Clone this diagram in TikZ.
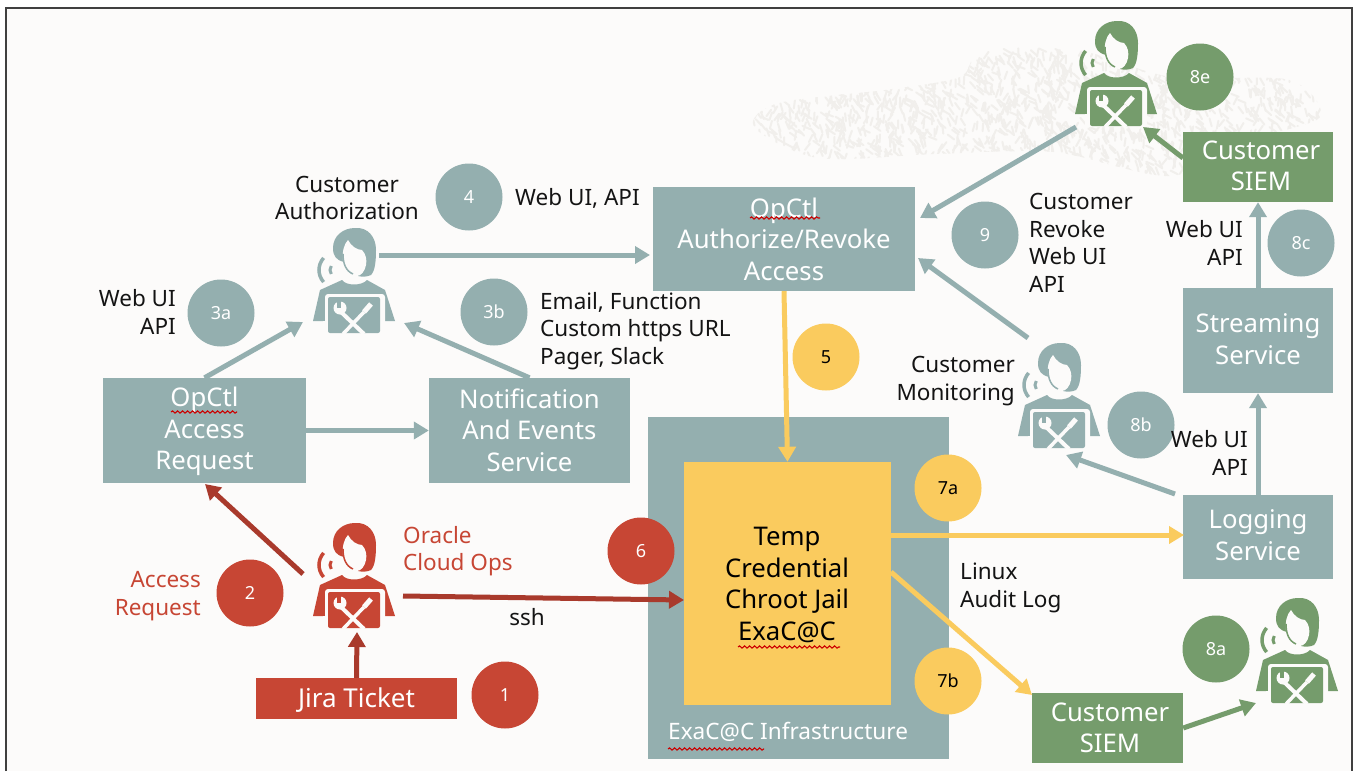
\documentclass[tikz,border=0pt]{standalone}
\usepackage{fontspec}
\setmainfont{Noto Sans}
\usetikzlibrary{arrows.meta,calc,decorations.pathmorphing}

\definecolor{paper}{HTML}{FCFBFA}
\definecolor{teal}{HTML}{94AFAF}
\definecolor{opsred}{HTML}{C74634}
\definecolor{arrowred}{HTML}{A93A2C}
\definecolor{sun}{HTML}{FACB5E}
\definecolor{leaf}{HTML}{759C6C}
\definecolor{speck}{HTML}{F1EFEC}

\tikzset{
  lab/.style={font=\fontsize{22.5}{27.5}\selectfont,inner sep=0pt,text=black!92},
  boxlab/.style={font=\fontsize{25.7}{31.5}\selectfont,text=white,align=center,inner sep=0pt},
  num/.style={circle,fill=#1,text=white,minimum size=67pt,inner sep=0pt,font=\fontsize{18}{20}\selectfont},
  flow/.style={draw=#1,line width=5pt,-{Triangle[length=15pt,width=17pt]},shorten >=0pt},
  squig/.style={draw=red!80!black,line width=1.1pt,decorate,decoration={snake,amplitude=1.1pt,segment length=5pt}}
}

% person at a laptop, #1 name, #2 top centre, #3 colour
\newcommand{\person}[3]{
  \node[minimum width=82pt,minimum height=105pt,inner sep=0pt,anchor=north] (#1) at (#2) {};
  \begin{scope}[shift={(#2)}]
    \fill[#3] (1,0) .. controls (14,-1) and (22,9) .. (22,22) .. controls (22,33) and (21,43) .. (17,47)
      .. controls (13,49) and (8,49) .. (4,48) -- (-10,34) .. controls (-18,32) and (-21,28) .. (-21,20)
      .. controls (-21,8) and (-11,0) .. (1,0) -- cycle;
    \fill[paper] (-6,12) .. controls (-3,18) and (3,22) .. (8,22) .. controls (12,26) and (13,32) .. (12,37)
      .. controls (11,43) and (7,48) .. (3,48) .. controls (-3,48) and (-9,40) .. (-11,32)
      .. controls (-12,24) and (-10,16) .. (-6,12) -- cycle;
    \draw[#3,line width=1.5pt] (-11,26) .. controls (-11,36) and (-8,43) .. (-1,46);
    \draw[#3,line width=3.5pt] (-17,42) ++(138:18) arc (138:222:18);
    \draw[#3,line width=3pt] (-17,42) ++(145:7) arc (145:215:7);
    \fill[#3] (-12,52) .. controls (-8,58) and (8,58) .. (13,52) -- (31,62) -- (41,93) -- (-41,93) -- (-34,62) -- cycle;
    \fill[paper,rounded corners=3pt] (-29,66) rectangle (31,106);
    \fill[paper] (-31,93) rectangle (31,106);
    \fill[#3,rounded corners=2pt] (-26,69) rectangle (26,105);
    \draw[paper,line width=4pt] (-13,84) -- (10,106);
    \draw[paper,line width=5pt] (17,76) -- (10,84);
    \draw[paper,line width=3.5pt] (10,84) -- (-11,106);
    \fill[paper] (-14,80) circle (6.5);
    \fill[#3] (-17,73) rectangle (-13,80);
  \end{scope}
}

\begin{document}
\begin{tikzpicture}[x=1pt,y=-1pt]
  \useasboundingbox (0,0) rectangle (1354,771);
  \fill[white] (0,0) rectangle (1354,771);
  \fill[paper] (6,8) rectangle (1352,771);
  \draw[black!75,line width=2pt] (6,771) -- (6,8) -- (1352,8) -- (1352,771);

  % speckled cloud behind the top right
  \begin{scope}
    \clip plot[smooth cycle] coordinates {(754,127) (779,103) (885,90) (960,77) (983,50) (1077,50)
      (1171,77) (1289,80) (1320,117) (1250,140) (1171,176) (1054,152) (936,154) (818,158)};
    \pgfmathsetseed{7}
    \foreach \i in {1,...,1900} {
      \pgfmathsetmacro{\sx}{750+rnd*575}
      \pgfmathsetmacro{\sy}{48+rnd*130}
      \pgfmathsetmacro{\sa}{20+rnd*110}
      \draw[speck,line width=2pt,line cap=round] (\sx,\sy) -- ++(\sa:8);
    }
  \end{scope}

  % boxes
  \fill[teal] (648,417) rectangle (949,759);
  \node[fill=sun,minimum width=207pt,minimum height=243pt,inner sep=0pt] (tempBox) at (787.5,583.5) {};
  \node[fill=teal,minimum width=203pt,minimum height=105pt,inner sep=0pt] (reqBox) at (204.5,430.5) {};
  \node[fill=teal,minimum width=201pt,minimum height=105pt,inner sep=0pt] (notifBox) at (529.5,430.5) {};
  \node[fill=teal,minimum width=262pt,minimum height=104pt,inner sep=0pt] (authBox) at (784,239) {};
  \node[fill=teal,minimum width=150pt,minimum height=84pt,inner sep=0pt] (logBox) at (1258,537) {};
  \node[fill=teal,minimum width=150pt,minimum height=105pt,inner sep=0pt] (streamBox) at (1258,340.5) {};
  \node[fill=leaf,minimum width=150pt,minimum height=70pt,inner sep=0pt] (siemTop) at (1258,167) {};
  \node[fill=leaf,minimum width=151pt,minimum height=70pt,inner sep=0pt] (siemLow) at (1107.5,728) {};
  \node[fill=opsred,minimum width=201pt,minimum height=41pt,inner sep=0pt] (jiraBox) at (356.5,698.5) {};

  \node[boxlab] (reqText) at (204.5,431.5) {OpCtl\\Access\\Request};
  \node[boxlab] (notifText) at (529.5,430) {Notification\\And Events\\Service};
  \node[boxlab] (authText) at (784,239) {OpCtl\\Authorize/Revoke\\Access};
  \node[boxlab] (logText) at (1258,535) {Logging\\Service};
  \node[boxlab] (streamText) at (1258,339) {Streaming\\Service};
  \node[boxlab] (siemTopText) at (1261,166) {Customer\\SIEM};
  \node[boxlab] (siemLowText) at (1110,728) {Customer\\SIEM};
  \node[boxlab,font=\fontsize{26}{31}\selectfont] (jiraText) at (356.5,700) {Jira Ticket};
  \node[boxlab,text=black] (tempText) at (787,585) {Temp\\Credential\\Chroot Jail\\ExaC@C};
  \node[lab,text=white,anchor=west,font=\fontsize{22.6}{27}\selectfont] (infraText) at (668,732) {ExaC@C Infrastructure};

  % spell check marks
  \draw[squig] (171,412) -- (237,412);
  \draw[squig] (750,218) -- (820,218);
  \draw[squig] (738,647) -- (840,647);
  \draw[squig] (668,749) -- (764,749);

  % people
  \person{authPerson}{354,228}{teal}
  \person{opsPerson}{354,523}{opsred}
  \person{monPerson}{1059,343}{teal}
  \person{lowPerson}{1297,598}{leaf}
  \person{topPerson}{1116,21}{leaf}

  % free ends next to the people
  \coordinate (authFromReq) at (303,322);
  \coordinate (authFromNotif) at (404,323);
  \coordinate (authOut) at (379,255);
  \coordinate (authIn) at (650,255);
  \coordinate (opsOutUp) at (303,574);
  \coordinate (opsReq) at (205,484);
  \coordinate (jiraIn) at (357,632);
  \coordinate (opsOut) at (403,596);
  \coordinate (tempIn) at (684,600);
  \coordinate (tempOutA) at (891,535);
  \coordinate (logIn) at (1184,535);
  \coordinate (tempOutB) at (891,572);
  \coordinate (siemIn) at (1032,695);
  \coordinate (lowIn) at (1256,703);
  \coordinate (topIn) at (1143,127);
  \coordinate (siemOut) at (1183,158);
  \coordinate (topOut) at (1076,127);
  \coordinate (authFromTop) at (920,218);
  \coordinate (monOut) at (1028,338);
  \coordinate (authFromMon) at (918,258);
  \coordinate (logOutMon) at (1175,494);
  \coordinate (monIn) at (1066,455);

  % connectors
  \draw[flow=teal] (reqBox.east) -- (notifBox.west);
  \draw[flow=teal] (reqBox.north) -- (authFromReq);
  \draw[flow=teal] (notifBox.north) -- (authFromNotif);
  \draw[flow=teal] (authOut) -- (authIn);
  \draw[flow=sun] (authBox.south) -- (tempBox.north);
  \draw[flow=arrowred] (opsOutUp) -- (opsReq);
  \draw[flow=arrowred] (jiraBox.north) -- (jiraIn);
  \draw[flow=arrowred] (opsOut) -- (tempIn);
  \draw[flow=sun] (tempOutA) -- (logIn);
  \draw[flow=sun] (tempOutB) -- (siemIn);
  \draw[flow=leaf] (siemLow.east) -- (lowIn);
  \draw[flow=teal] (logBox.north) -- (streamBox.south);
  \draw[flow=teal] (streamBox.north) -- (siemTop.south);
  \draw[flow=leaf] (siemOut) -- (topIn);
  \draw[flow=teal] (topOut) -- (authFromTop);
  \draw[flow=teal] (monOut) -- (authFromMon);
  \draw[flow=teal] (logOutMon) -- (monIn);

  % numbers
  \node[num=teal] (n4) at (469,197) {4};
  \node[num=teal] (n3a) at (221,313) {3a};
  \node[num=teal] (n3b) at (494,312) {3b};
  \node[num=sun] (n5) at (826,357) {\textcolor{black}{5}};
  \node[num=teal] (n9) at (985,235) {9};
  \node[num=leaf] (n8e) at (1200,77) {8e};
  \node[num=teal] (n8c) at (1301,243) {8c};
  \node[num=teal] (n8b) at (1141,425) {8b};
  \node[num=sun] (n7a) at (948,488) {\textcolor{black}{7a}};
  \node[num=sun] (n7b) at (948,681) {\textcolor{black}{7b}};
  \node[num=opsred] (n6) at (641,551) {6};
  \node[num=opsred] (n2) at (250,593) {2};
  \node[num=opsred] (n1) at (505,695) {1};
  \node[num=leaf] (n8a) at (1216,649) {8a};

  % labels
  \node[lab,align=center] (authLab) at (347,198) {Customer\\Authorization};
  \node[lab,anchor=west] (webLab) at (515,198) {Web UI, API};
  \node[lab,align=right,anchor=east] (webLabA) at (176,312) {Web UI\\API};
  \node[lab,align=left,anchor=west] (mailLab) at (540,331) {Email, Function\\Custom https URL\\Pager, Slack};
  \node[lab,align=right,anchor=east] (monLab) at (1015,381) {Customer\\Monitoring};
  \node[lab,align=left,anchor=west] (revokeLab) at (1029,243) {Customer\\Revoke\\Web UI\\API};
  \node[lab,align=right,anchor=east] (webLabC) at (1243,243) {Web UI\\API};
  \node[lab,align=right,anchor=east] (webLabB) at (1248,453) {Web UI\\API};
  \node[lab,align=left,anchor=west,text=opsred] (opsLab) at (403,551) {Oracle\\Cloud Ops};
  \node[lab,align=right,anchor=east,text=opsred] (reqLab) at (201,596) {Access\\Request};
  \node[lab] (sshLab) at (527,617) {ssh};
  \node[lab,align=left,anchor=west] (auditLab) at (960,588) {Linux\\Audit Log};
\end{tikzpicture}
\end{document}
